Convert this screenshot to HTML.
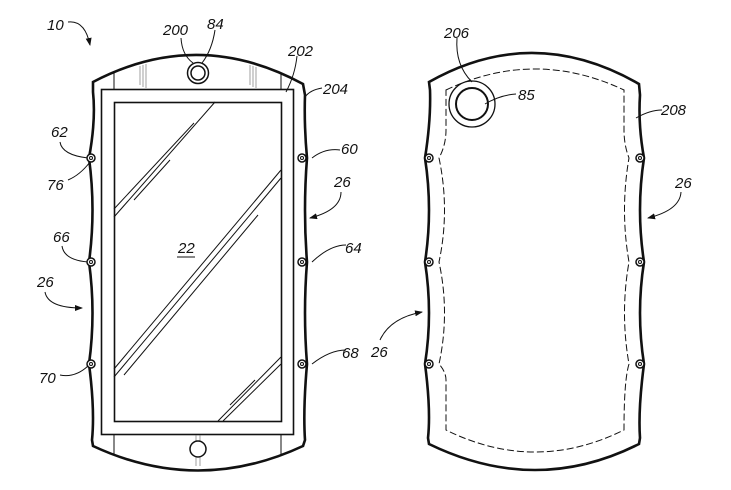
<!DOCTYPE html>
<html><head><meta charset="utf-8"><style>
html,body{margin:0;padding:0;background:#fff;}
svg{display:block;}
text{font-family:"Liberation Sans",sans-serif;font-style:italic;font-size:15px;fill:#111;}
</style></head><body>
<svg width="731" height="490" viewBox="0 0 731 490" xmlns="http://www.w3.org/2000/svg">
<defs><marker id="ah" markerWidth="8" markerHeight="6" refX="7" refY="3" orient="auto"><path d="M0,0 L8,3 L0,6 Z" fill="#111"/></marker></defs>
<g fill="none" stroke="#111">
<path stroke-width="2.6" d="M93,82 Q198,27 303,84 L305,95 Q304,125 307,158 Q303,210 307,262 Q303,313 307,364 Q303,410 305,440 L303,446 Q198,495 93,446 L92,440 Q95,410 89,364 Q96,313 89,262 Q96,210 89,158 Q96,120 93,92 Z"/>
<rect x="101.5" y="89.5" width="192" height="345" stroke-width="1.6"/>
<rect x="114.5" y="102.5" width="167" height="319" stroke-width="1.6"/>
<line x1="114" y1="73" x2="114" y2="89" stroke-width="1"/>
<line x1="281" y1="74" x2="281" y2="89" stroke-width="1"/>
<line x1="114" y1="435" x2="114" y2="454" stroke-width="1"/>
<line x1="281" y1="435" x2="281" y2="455" stroke-width="1"/>
<g stroke-width="0.7" stroke="#777">
<line x1="140" y1="66" x2="140" y2="85"/><line x1="143" y1="65" x2="143" y2="87"/><line x1="146" y1="64" x2="146" y2="88"/>
<line x1="250" y1="65" x2="250" y2="85"/><line x1="253" y1="66" x2="253" y2="87"/><line x1="256" y1="67" x2="256" y2="88"/>
<line x1="196" y1="435" x2="196" y2="466"/><line x1="200" y1="435" x2="200" y2="466"/>
</g>
<g stroke-width="1">
<line x1="114" y1="217" x2="215" y2="102"/>
<line x1="114" y1="209" x2="194" y2="123"/>
<line x1="134" y1="200" x2="170" y2="160"/>
<line x1="114" y1="377" x2="281" y2="178"/>
<line x1="114" y1="369" x2="281" y2="170"/>
<line x1="124" y1="375" x2="258" y2="215"/>
<line x1="218" y1="421" x2="281" y2="357"/>
<line x1="223" y1="421" x2="281" y2="364"/>
<line x1="230" y1="405" x2="255" y2="380"/>
</g>
<circle cx="198" cy="73" r="10.5" stroke-width="1.5"/>
<circle cx="198" cy="73" r="7" stroke-width="1.5"/>
<circle cx="198" cy="449" r="8" stroke-width="1.5" fill="#fff"/>
<path stroke-width="2.6" d="M429,82 Q533,23 639,84 L640,95 Q638,125 644,158 Q636,210 644,262 Q636,313 644,364 Q638,410 640,438 L639,444 Q536,496 429,444 L428,438 Q431,410 425,364 Q433,313 425,262 Q433,210 425,158 Q431,120 430,90 Z"/>
<path stroke-width="1" stroke-dasharray="7,3" d="M446,90 Q535,48 624,90 L624,130 Q624,145 629,158 Q620,210 629,262 Q620,313 629,364 Q624,380 624,430 Q535,474 446,430 L446,380 Q446,372 439,364 Q450,313 439,262 Q450,210 439,158 Q446,145 446,130 Z"/>
<circle cx="472" cy="104" r="23" stroke-width="1.3" fill="#fff"/>
<circle cx="472" cy="104" r="16" stroke-width="2"/>
<g stroke-width="1">
<path d="M68,22 Q85,20 90,45" marker-end="url(#ah)"/>
<path d="M181,38 Q182,55 193,63"/>
<path d="M215,30 Q212,50 202,63"/>
<path d="M297,56 Q295,75 286,92"/>
<path d="M322,88 Q310,90 305,97"/>
<path d="M60,142 Q62,155 88,158"/>
<path d="M68,180 Q80,175 90,162"/>
<path d="M340,150 Q325,148 312,158"/>
<path d="M341,192 Q341,210 310,218" marker-end="url(#ah)"/>
<path d="M62,246 Q64,260 88,262"/>
<path d="M346,245 Q330,245 312,262"/>
<path d="M45,292 Q48,308 82,308" marker-end="url(#ah)"/>
<path d="M60,375 Q75,378 88,366"/>
<path d="M346,350 Q330,350 312,364"/>
<path d="M457,38 Q455,65 472,82"/>
<path d="M516,94 Q500,95 485,104"/>
<path d="M662,110 Q650,110 636,118"/>
<path d="M681,192 Q680,210 648,218" marker-end="url(#ah)"/>
<path d="M380,340 Q390,318 422,312" marker-end="url(#ah)"/>
</g>
<line x1="177" y1="257" x2="195" y2="257" stroke-width="1"/>
</g>
<g fill="#fff" stroke="#111">
<circle cx="91" cy="158" r="4" stroke-width="1.5"/><circle cx="91" cy="158" r="1.5"/>
<circle cx="91" cy="262" r="4" stroke-width="1.5"/><circle cx="91" cy="262" r="1.5"/>
<circle cx="91" cy="364" r="4" stroke-width="1.5"/><circle cx="91" cy="364" r="1.5"/>
<circle cx="302" cy="158" r="4" stroke-width="1.5"/><circle cx="302" cy="158" r="1.5"/>
<circle cx="302" cy="262" r="4" stroke-width="1.5"/><circle cx="302" cy="262" r="1.5"/>
<circle cx="302" cy="364" r="4" stroke-width="1.5"/><circle cx="302" cy="364" r="1.5"/>
<circle cx="429" cy="158" r="4" stroke-width="1.5"/><circle cx="429" cy="158" r="1.5"/>
<circle cx="429" cy="262" r="4" stroke-width="1.5"/><circle cx="429" cy="262" r="1.5"/>
<circle cx="429" cy="364" r="4" stroke-width="1.5"/><circle cx="429" cy="364" r="1.5"/>
<circle cx="640" cy="158" r="4" stroke-width="1.5"/><circle cx="640" cy="158" r="1.5"/>
<circle cx="640" cy="262" r="4" stroke-width="1.5"/><circle cx="640" cy="262" r="1.5"/>
<circle cx="640" cy="364" r="4" stroke-width="1.5"/><circle cx="640" cy="364" r="1.5"/>
</g>
<text x="47" y="30">10</text>
<text x="163" y="35">200</text>
<text x="207" y="29">84</text>
<text x="288" y="56">202</text>
<text x="323" y="94">204</text>
<text x="51" y="137">62</text>
<text x="47" y="190">76</text>
<text x="341" y="154">60</text>
<text x="334" y="187">26</text>
<text x="53" y="242">66</text>
<text x="178" y="253">22</text>
<text x="345" y="253">64</text>
<text x="37" y="287">26</text>
<text x="342" y="358">68</text>
<text x="39" y="383">70</text>
<text x="444" y="38">206</text>
<text x="518" y="100">85</text>
<text x="661" y="115">208</text>
<text x="675" y="188">26</text>
<text x="371" y="357">26</text>
</svg>
</body></html>
